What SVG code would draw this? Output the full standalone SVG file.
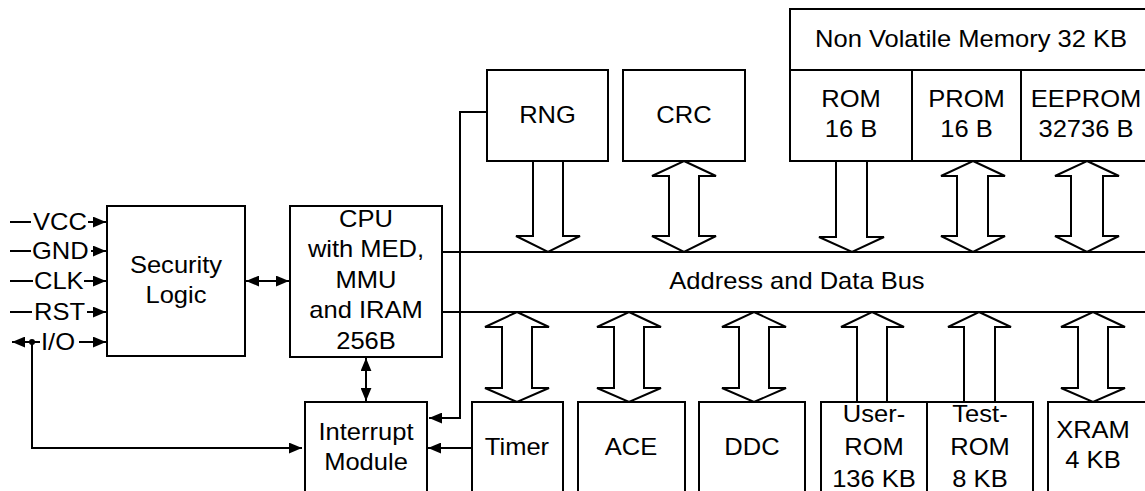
<svg xmlns="http://www.w3.org/2000/svg" width="1145" height="491" viewBox="0 0 1145 491">
<style>
.b{fill:#fff;stroke:#000;stroke-width:2}
.l{fill:none;stroke:#000;stroke-width:2}
.ba{fill:#fff;stroke:#000;stroke-width:2;stroke-linejoin:miter}
.t{font-family:"Liberation Sans",Arial,Helvetica,sans-serif;font-size:23px;fill:#000;text-anchor:middle}
.s{text-anchor:start}
.a{marker-end:url(#ah)}
.aa{marker-start:url(#ah);marker-end:url(#ah)}
</style>
<defs>
<marker id="ah" markerUnits="userSpaceOnUse" markerWidth="13" markerHeight="11" refX="12" refY="5" orient="auto-start-reverse" viewBox="0 0 12 10">
<path d="M0,0 L12,5 L0,10 z" fill="#000"/>
</marker>
</defs>
<rect width="1145" height="491" fill="#fff"/>

<g id="connectors">
<path class="l" d="M442,252 H1146"/>
<path class="l" d="M442,312 H1146"/>
<path class="l aa" d="M246,281 H289"/>
<path class="l aa" d="M366,358 V401"/>
<path class="l a" d="M490,112 H460 V418 H429"/>
<path class="l a" d="M472,448 H428"/>
<path class="l a" d="M32,342 V448 H302"/>
<path class="l a" d="M40,342 H12"/>
<circle cx="32" cy="342" r="3" fill="#000"/>
<path class="l a" d="M79,342 H106"/>
<path class="l" d="M10,222 H31"/>
<path class="l a" d="M88,222 H106"/>
<path class="l" d="M10,251 H31"/>
<path class="l a" d="M91,251 H106"/>
<path class="l" d="M10,281 H33"/>
<path class="l a" d="M84,281 H106"/>
<path class="l" d="M10,312 H32"/>
<path class="l a" d="M87,312 H106"/>
<polygon class="ba" points="533,161 533,236 516,236 548,252 580,236 563,236 563,161"/>
<polygon class="ba" points="684,161 716,176 699,176 699,236 716,236 684,252 652,236 669,236 669,176 652,176"/>
<polygon class="ba" points="836,161 836,237 819,237 852,252 884,237 867,237 867,161"/>
<polygon class="ba" points="973,161 1005,176 988,176 988,236 1005,236 973,252 941,236 957,236 957,176 941,176"/>
<polygon class="ba" points="1087,161 1119,176 1103,176 1103,236 1119,236 1087,252 1055,236 1071,236 1071,176 1055,176"/>
<polygon class="ba" points="517,312 549,327 532,327 532,388 549,388 517,402 485,388 502,388 502,327 485,327"/>
<polygon class="ba" points="629,312 661,327 644,327 644,388 661,388 629,402 597,388 614,388 614,327 597,327"/>
<polygon class="ba" points="754,312 786,327 769,327 769,388 786,388 754,402 722,388 739,388 739,327 722,327"/>
<polygon class="ba" points="872,312 904,327 887,327 887,402 857,402 857,327 841,327"/>
<polygon class="ba" points="979,312 1011,327 995,327 995,402 964,402 964,327 948,327"/>
<polygon class="ba" points="1093,312 1125,327 1108,327 1108,388 1125,388 1093,402 1061,388 1078,388 1078,327 1061,327"/>
</g>

<g id="signals">
<text class="t s" transform="translate(33,230) scale(1.11,1)">VCC</text>
<text class="t s" transform="translate(32,259) scale(1.11,1)">GND</text>
<text class="t s" transform="translate(34,289) scale(1.11,1)">CLK</text>
<text class="t s" transform="translate(34,320) scale(1.11,1)">RST</text>
<text class="t s" transform="translate(41,350) scale(1.11,1)">I/O</text>
</g>

<g id="security">
<rect class="b" x="107" y="206" width="138" height="150"/>
<text class="t" transform="translate(176,273) scale(1.11,1)"><tspan x="0">Security</tspan><tspan x="0" dy="30.5">Logic</tspan></text>
</g>

<g id="cpu">
<rect class="b" x="290" y="206" width="152" height="151"/>
<text class="t" transform="translate(366,227) scale(1.11,1)"><tspan x="0">CPU</tspan><tspan x="0" dy="30.5">with MED,</tspan><tspan x="0" dy="30.5">MMU</tspan><tspan x="0" dy="30.5">and IRAM</tspan><tspan x="0" dy="30.5">256B</tspan></text>
</g>

<g id="interrupt">
<rect class="b" x="305" y="402" width="122" height="100"/>
<text class="t" transform="translate(366,440) scale(1.11,1)"><tspan x="0">Interrupt</tspan><tspan x="0" dy="30">Module</tspan></text>
</g>

<g id="rng">
<rect class="b" x="487" y="70" width="121" height="91"/>
<text class="t" transform="translate(547.5,123) scale(1.11,1)">RNG</text>
</g>

<g id="crc">
<rect class="b" x="623" y="70" width="122" height="91"/>
<text class="t" transform="translate(684,123) scale(1.11,1)">CRC</text>
</g>

<g id="nvm">
<rect class="b" x="790" y="9" width="365" height="152"/>
<path class="l" d="M790,70 H1155 M912,70 V161 M1021,70 V161"/>
<text class="t" transform="translate(971,47) scale(1.11,1)">Non Volatile Memory 32 KB</text>
<text class="t" transform="translate(851,107) scale(1.11,1)"><tspan x="0">ROM</tspan><tspan x="0" dy="30.5">16 B</tspan></text>
<text class="t" transform="translate(966.5,107) scale(1.11,1)"><tspan x="0">PROM</tspan><tspan x="0" dy="30.5">16 B</tspan></text>
<text class="t" transform="translate(1086,107) scale(1.11,1)"><tspan x="0">EEPROM</tspan><tspan x="0" dy="30.5">32736 B</tspan></text>
</g>

<g id="bus">
<text class="t" transform="translate(797,289) scale(1.11,1)">Address and Data Bus</text>
</g>

<g id="timer">
<rect class="b" x="472" y="402" width="91" height="100"/>
<text class="t" transform="translate(517,455) scale(1.11,1)">Timer</text>
</g>

<g id="ace">
<rect class="b" x="578" y="402" width="107" height="100"/>
<text class="t" transform="translate(631,455) scale(1.11,1)">ACE</text>
</g>

<g id="ddc">
<rect class="b" x="699" y="402" width="106" height="100"/>
<text class="t" transform="translate(752,455) scale(1.11,1)">DDC</text>
</g>

<g id="rom">
<rect class="b" x="821" y="402" width="212" height="100"/>
<path class="l" d="M927,402 V502"/>
<text class="t" transform="translate(874,422) scale(1.11,1)"><tspan x="0">User-</tspan><tspan x="0" dy="33">ROM</tspan><tspan x="0" dy="32">136 KB</tspan></text>
<text class="t" transform="translate(980,422) scale(1.11,1)"><tspan x="0">Test-</tspan><tspan x="0" dy="33">ROM</tspan><tspan x="0" dy="32">8 KB</tspan></text>
</g>

<g id="xram">
<rect class="b" x="1048" y="402" width="110" height="100"/>
<text class="t" transform="translate(1093,438) scale(1.11,1)"><tspan x="0">XRAM</tspan><tspan x="0" dy="30">4 KB</tspan></text>
</g>
</svg>
